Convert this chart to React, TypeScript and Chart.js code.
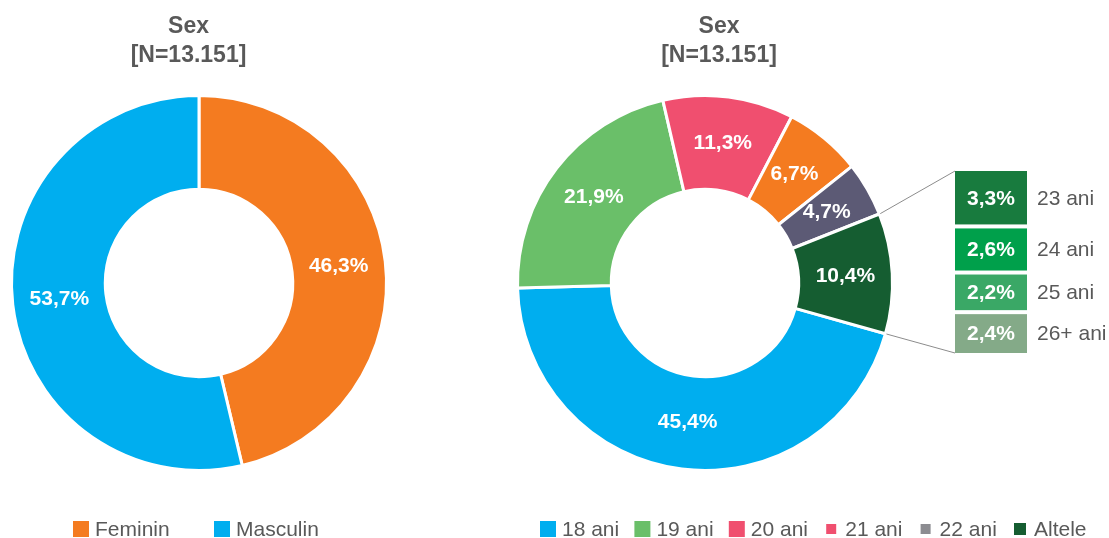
import React, { useEffect, useRef } from "react";
import { Chart, registerables } from "chart.js";

Chart.register(...registerables);

const titleLines = ["Sex", "[N=13.151]"];

const sexLabels = ["Feminin", "Masculin"];
const sexValues = [46.3, 53.7];
const sexColors = ["#F47B20", "#00AEEF"];

const ageLabels = ["18 ani", "19 ani", "20 ani", "21 ani", "22 ani", "Altele"];
const ageValues = [45.4, 21.9, 11.3, 6.7, 4.7, 10.4];
const ageColors = ["#00AEEF", "#6ABF69", "#F04F6F", "#F47B20", "#5C5A75", "#155D31"];
const ageLegendColors = ["#00AEEF", "#6ABF69", "#F04F6F", "#F04F6F", "#8C8C91", "#155D31"];

const otherLabels = ["23 ani", "24 ani", "25 ani", "26+ ani"];
const otherValues = [3.3, 2.6, 2.2, 2.4];
const otherColors = ["#187B3E", "#00A04B", "#3AA866", "#84AA88"];

const FONT = '"Liberation Sans", Arial, Helvetica, sans-serif';
const GRAY = "#595959";

const fmt = (v: number) => v.toFixed(1).replace(".", ",") + "%";

const decorPlugin = {
  id: "decor",
  afterDatasetsDraw(chart: any, _args: any, opts: any) {
    const ctx = chart.ctx as CanvasRenderingContext2D;
    const meta = chart.getDatasetMeta(0);
    const values: number[] = chart.data.datasets[0].data;
    ctx.save();

    // slice labels
    ctx.font = `bold 21px ${FONT}`;
    ctx.fillStyle = "#FFFFFF";
    ctx.textAlign = "center";
    ctx.textBaseline = "middle";
    meta.data.forEach((arc: any, i: number) => {
      const p = arc.getCenterPoint();
      ctx.fillText(fmt(values[i]), p.x, p.y);
    });

    // title
    ctx.fillStyle = GRAY;
    ctx.font = `bold 23px ${FONT}`;
    ctx.textBaseline = "alphabetic";
    titleLines.forEach((t, i) => {
      ctx.fillText(t, opts.titleX, opts.titleY + i * opts.titleLine);
    });

    // legend
    const lg = opts.legend;
    ctx.font = `21px ${FONT}`;
    ctx.textAlign = "left";
    ctx.textBaseline = "middle";
    lg.labels.forEach((lab: string, i: number) => {
      const left = lg.x0 + i * lg.step;
      const s = lg.sizes ? lg.sizes[i] : 16;
      ctx.fillStyle = lg.colors[i];
      ctx.fillRect(left + 8 - s / 2, lg.y - s / 2, s, s);
      ctx.fillStyle = GRAY;
      ctx.fillText(lab, left + lg.textGap, lg.y + 1);
    });

    // breakdown of "Altele"
    const bd = opts.breakdown;
    if (bd) {
      const arc: any = meta.data[bd.index];
      const { x, y, startAngle, endAngle, outerRadius } = arc.getProps(
        ["x", "y", "startAngle", "endAngle", "outerRadius"],
        true
      );
      ctx.strokeStyle = "#8C8C8C";
      ctx.lineWidth = 1;
      ctx.beginPath();
      ctx.moveTo(x + Math.cos(startAngle) * (outerRadius + 1), y + Math.sin(startAngle) * (outerRadius + 1));
      ctx.lineTo(bd.x, bd.top);
      ctx.moveTo(x + Math.cos(endAngle) * (outerRadius + 1), y + Math.sin(endAngle) * (outerRadius + 1));
      ctx.lineTo(bd.x, bd.bottom);
      ctx.stroke();

      const total = otherValues.reduce((a, b) => a + b, 0);
      const avail = bd.bottom - bd.top - bd.gap * (otherValues.length - 1);
      let cy = bd.top;
      otherValues.forEach((v, i) => {
        const h = (v / total) * avail;
        ctx.fillStyle = otherColors[i];
        ctx.fillRect(bd.x, cy, bd.width, h);
        ctx.font = `bold 21px ${FONT}`;
        ctx.fillStyle = "#FFFFFF";
        ctx.textAlign = "center";
        ctx.fillText(fmt(v), bd.x + bd.width / 2, cy + h / 2 + 1);
        ctx.font = `21px ${FONT}`;
        ctx.fillStyle = GRAY;
        ctx.textAlign = "left";
        ctx.fillText(otherLabels[i], bd.x + bd.width + 10, cy + h / 2 + 1);
        cy += h + bd.gap;
      });
    }
    ctx.restore();
  },
};

function useDoughnut(
  ref: React.RefObject<HTMLCanvasElement>,
  labels: string[],
  values: number[],
  colors: string[],
  rotation: number,
  padding: any,
  decor: any
) {
  useEffect(() => {
    if (!ref.current) return;
    const chart = new Chart(ref.current, {
      type: "doughnut",
      data: {
        labels,
        datasets: [
          {
            data: values,
            backgroundColor: colors,
            borderColor: "#FFFFFF",
            borderWidth: 3,
          },
        ],
      },
      options: {
        responsive: false,
        maintainAspectRatio: false,
        animation: false,
        events: [],
        cutout: "50%",
        rotation,
        layout: { padding },
        plugins: {
          legend: { display: false },
          title: { display: false },
          tooltip: { enabled: false },
          decor,
        } as any,
      },
      plugins: [decorPlugin],
    });
    return () => chart.destroy();
  }, []);
}

export default function App() {
  const leftRef = useRef<HTMLCanvasElement>(null);
  const rightRef = useRef<HTMLCanvasElement>(null);

  useDoughnut(
    leftRef,
    sexLabels,
    sexValues,
    sexColors,
    0,
    { left: 10, right: 42, top: 94, bottom: 66 },
    {
      titleX: 188.5,
      titleY: 33,
      titleLine: 29,
      legend: { labels: sexLabels, colors: sexColors, x0: 73, step: 141, y: 529, textGap: 22 },
    }
  );

  useDoughnut(
    rightRef,
    ageLabels,
    ageValues,
    ageColors,
    105.7,
    { left: 86, right: 215, top: 94, bottom: 66 },
    {
      titleX: 289,
      titleY: 33,
      titleLine: 29,
      legend: {
        labels: ageLabels,
        colors: ageLegendColors,
        sizes: [16, 16, 16, 10, 10, 12],
        x0: 110,
        step: 94.4,
        y: 529,
        textGap: 22,
      },
      breakdown: { index: 5, x: 525, top: 171, bottom: 353, width: 72, gap: 4 },
    }
  );

  return (
    <div
      style={{
        position: "fixed",
        left: 0,
        top: 0,
        width: 1109,
        height: 538,
        background: "#FFFFFF",
        overflow: "hidden",
      }}
    >
      <canvas
        ref={leftRef}
        width={430}
        height={538}
        style={{ position: "absolute", left: 0, top: 0, width: 430, height: 538, display: "block" }}
      />
      <canvas
        ref={rightRef}
        width={679}
        height={538}
        style={{ position: "absolute", left: 430, top: 0, width: 679, height: 538, display: "block" }}
      />
    </div>
  );
}
